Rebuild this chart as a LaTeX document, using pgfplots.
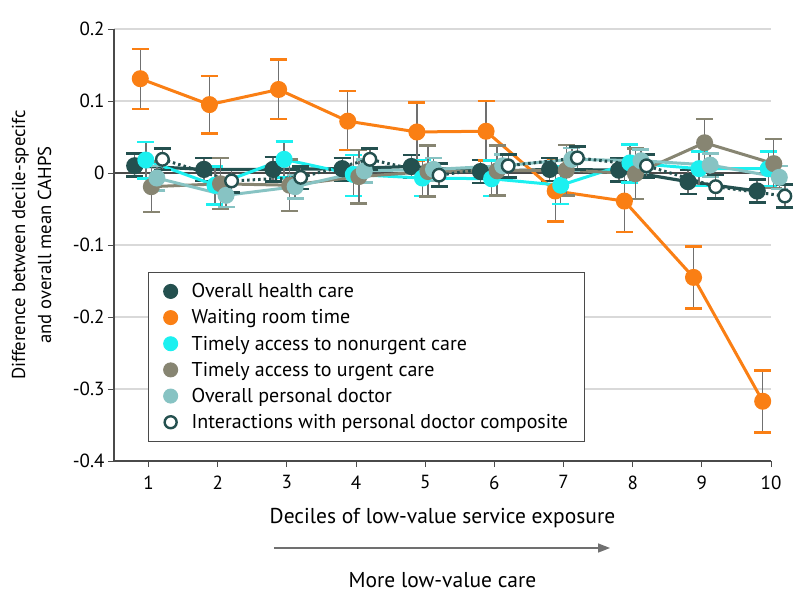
\documentclass[border=0pt]{standalone}
\usepackage{pgfplots}
\pgfplotsset{compat=1.18}
\usepackage{pgfplotstable}
\usepackage{fontspec}
\setmainfont{PT Sans}
\usetikzlibrary{arrows.meta}
\definecolor{cdark}{HTML}{24504F}
\definecolor{corange}{HTML}{FA7F14}
\definecolor{ccyan}{HTML}{1CF0F0}
\definecolor{ctaupe}{HTML}{878572}
\definecolor{clteal}{HTML}{87C3C3}
\definecolor{cbar}{HTML}{707070}
\definecolor{cgrid}{HTML}{D9D9D9}
\definecolor{caxis}{HTML}{4A4A4A}

\pgfplotstableread{
x y ep em
0.8 0.010 0.017 0.015
1.8 0.005 0.016 0.016
2.8 0.005 0.017 0.017
3.8 0.006 0.015 0.017
4.8 0.009 0.016 0.016
5.8 0.002 0.016 0.016
6.8 0.005 0.016 0.016
7.8 0.004 0.016 0.016
8.8 -0.012 0.016 0.017
9.8 -0.025 0.016 0.016
}\tdark
\pgfplotstableread{
x y ep em
0.88 0.131 0.041 0.042
1.88 0.095 0.040 0.040
2.88 0.116 0.042 0.041
3.88 0.072 0.042 0.040
4.88 0.057 0.041 0.040
5.88 0.058 0.042 0.041
6.88 -0.025 0.042 0.042
7.88 -0.039 0.043 0.043
8.88 -0.145 0.043 0.043
9.88 -0.317 0.043 0.043
}\torange
\pgfplotstableread{
x y ep em
0.96 0.018 0.025 0.026
1.96 -0.017 0.026 0.027
2.96 0.019 0.025 0.025
3.96 -0.002 0.027 0.030
4.96 -0.007 0.025 0.025
5.96 -0.008 0.025 0.024
6.96 -0.017 0.026 0.026
7.96 0.014 0.026 0.027
8.96 0.006 0.024 0.024
9.96 0.006 0.024 0.024
}\tcyan
\pgfplotstableread{
x y ep em
1.04 -0.019 0.035 0.035
2.04 -0.015 0.036 0.035
3.04 -0.017 0.036 0.036
4.04 -0.005 0.037 0.037
5.04 0.002 0.036 0.035
6.04 0.003 0.035 0.034
7.04 0.004 0.035 0.035
8.04 -0.001 0.035 0.035
9.04 0.042 0.033 0.035
10.04 0.013 0.034 0.034
}\ttaupe
\pgfplotstableread{
x y ep em
1.12 -0.007 0.017 0.017
2.12 -0.031 0.016 0.016
3.12 -0.019 0.016 0.016
4.12 0.003 0.016 0.016
5.12 0.005 0.016 0.016
6.12 0.010 0.016 0.016
7.12 0.019 0.016 0.016
8.12 0.017 0.016 0.016
9.12 0.011 0.016 0.016
10.12 -0.006 0.016 0.016
}\tlteal
\pgfplotstableread{
x y ep em
1.2 0.019 0.015 0.015
2.2 -0.011 0.016 0.016
3.2 -0.006 0.015 0.016
4.2 0.019 0.015 0.015
5.2 -0.003 0.016 0.016
6.2 0.010 0.016 0.016
7.2 0.021 0.016 0.016
8.2 0.010 0.016 0.016
9.2 -0.019 0.016 0.016
10.2 -0.032 0.016 0.016
}\topen

\pgfplotsset{
  ebar/.style={error bars/.cd, y dir=both, y explicit,
    error bar style={cbar, line width=1.4bp, solid},
    error mark options={rotate=90, color=#1, line width=2.6bp, mark size=8.5bp, solid}},
}
\newcommand{\legsp}[1]{\hspace*{12bp}#1}

\begin{document}
\begin{tikzpicture}
\useasboundingbox (-114bp,-148bp) rectangle (680bp,461bp);
\begin{axis}[
  at={(0,0)}, anchor=south west,
  scale only axis, width=657bp, height=432bp,
  xmin=0.5, xmax=10, ymin=-0.4, ymax=0.2,
  clip=false,
  axis x line*=bottom, axis y line*=left,
  axis line style={caxis, line width=1.1bp},
  xtick={1,2,3,4,5,6,7,8,9,10},
  ytick={-0.4,-0.3,-0.2,-0.1,0.1,0.2},
  yticklabels={-0.4,-0.3,-0.2,-0.1,0.1,0.2},
  extra y ticks={0}, extra y tick labels={0},
  extra y tick style={major grid style={caxis, line width=1.1bp}},
  ymajorgrids, major grid style={cgrid, line width=1.6bp},
  tick align=outside, major tick length=6bp,
  tick style={caxis, line width=1bp},
  /pgf/number format/assume math mode=true,
  tick label style={font=\fontsize{19bp}{22bp}\selectfont, text=black},
  xticklabel style={yshift=-5bp},
  xlabel={Deciles of low-value service exposure},
  xlabel style={at={(axis description cs:0.5,-0.132)}, anchor=center, font=\fontsize{21.5bp}{24bp}\selectfont, inner sep=0pt},
  ylabel={Difference between decile-specifc\\and overall mean CAHPS},
  ylabel style={at={(axis description cs:-0.095,0.5)}, anchor=south, rotate=0, align=center, font=\fontsize{18.7bp}{26bp}\selectfont, inner sep=0pt},
  legend style={at={(axis description cs:0.052,0.045)}, anchor=south west,
    draw=caxis, line width=1bp, fill=white, font=\fontsize{20bp}{24bp}\selectfont,
    row sep=6.5bp, inner xsep=15bp, inner ysep=9bp, cells={anchor=west}},
  legend cell align=left,
]
\addlegendimage{only marks, mark=*, mark size=7bp, draw=cdark, fill=cdark}
\addlegendentry{\legsp{Overall health care}}
\addlegendimage{only marks, mark=*, mark size=7bp, draw=corange, fill=corange}
\addlegendentry{\legsp{Waiting room time}}
\addlegendimage{only marks, mark=*, mark size=7bp, draw=ccyan, fill=ccyan}
\addlegendentry{\legsp{Timely access to nonurgent care}}
\addlegendimage{only marks, mark=*, mark size=7bp, draw=ctaupe, fill=ctaupe}
\addlegendentry{\legsp{Timely access to urgent care}}
\addlegendimage{only marks, mark=*, mark size=7bp, draw=clteal, fill=clteal}
\addlegendentry{\legsp{Overall personal doctor}}
\addlegendimage{only marks, mark=*, mark size=6bp, draw=cdark, fill=white, mark options={line width=2.4bp}}
\addlegendentry{\legsp{Interactions with personal doctor composite}}

\addplot[forget plot, cdark, line width=3.2bp, mark=*, mark size=7bp, mark options={draw=cdark, fill=cdark}, ebar=cdark]
  table[x=x, y=y, y error plus=ep, y error minus=em] {\tdark};
\addplot[forget plot, corange, line width=3bp, mark=*, mark size=7bp, mark options={draw=corange, fill=corange}, ebar=corange]
  table[x=x, y=y, y error plus=ep, y error minus=em] {\torange};
\addplot[forget plot, ccyan, line width=3bp, mark=*, mark size=7bp, mark options={draw=ccyan, fill=ccyan}, ebar=ccyan]
  table[x=x, y=y, y error plus=ep, y error minus=em] {\tcyan};
\addplot[forget plot, ctaupe, line width=3bp, mark=*, mark size=7bp, mark options={draw=ctaupe, fill=ctaupe}, ebar=ctaupe]
  table[x=x, y=y, y error plus=ep, y error minus=em] {\ttaupe};
\addplot[forget plot, clteal, line width=3bp, mark=*, mark size=7bp, mark options={draw=clteal, fill=clteal}, ebar=clteal]
  table[x=x, y=y, y error plus=ep, y error minus=em] {\tlteal};
\addplot[forget plot, cdark, line width=3bp, dash pattern=on 2.5bp off 3bp, mark=*, mark size=6.3bp, mark options={solid, draw=cdark, fill=white, line width=2.4bp}, ebar=cdark]
  table[x=x, y=y, y error plus=ep, y error minus=em] {\topen};

\draw[cbar, line width=1.5bp, -{Triangle[length=12bp, width=9bp]}] (axis description cs:0.2435,-0.2014) -- (axis description cs:0.755,-0.2014);
\node[font=\fontsize{21.5bp}{24bp}\selectfont, inner sep=0pt] at (axis description cs:0.5,-0.2755) {More low-value care};
\end{axis}
\end{tikzpicture}
\end{document}
